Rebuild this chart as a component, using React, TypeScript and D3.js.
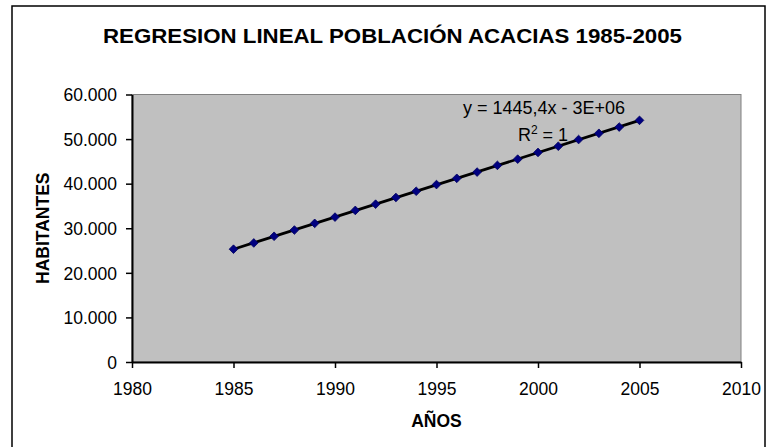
import React from "react";
import * as d3 from "d3";

const years = [
  1985, 1986, 1987, 1988, 1989, 1990, 1991, 1992, 1993, 1994, 1995, 1996,
  1997, 1998, 1999, 2000, 2001, 2002, 2003, 2004, 2005,
];
const habitantes = [
  25300, 26700, 28200, 29600, 31100, 32500, 34000, 35400, 36900, 38300,
  39800, 41200, 42600, 44100, 45500, 47000, 48400, 49900, 51300, 52700,
  54200,
];
const xTicks = [1980, 1985, 1990, 1995, 2000, 2005, 2010];
const yTicks = [0, 10000, 20000, 30000, 40000, 50000, 60000];
const title = "REGRESION LINEAL POBLACIÓN ACACIAS 1985-2005";
const equation = "y = 1445,4x - 3E+06";

const W = 766;
const H = 447;
const plot = { left: 132, right: 741, top: 94.5, bottom: 362 };
const font = "'Liberation Sans', Arial, sans-serif";

const App = () => {
  const svgRef = React.useRef<SVGSVGElement>(null);

  React.useEffect(() => {
    const svgEl = d3.select(svgRef.current);
    svgEl.selectAll("*").remove();

    const x = d3.scaleLinear().domain([1980, 2010]).range([plot.left, plot.right]);
    const y = d3.scaleLinear().domain([0, 60000]).range([plot.bottom, plot.top]);

    // outer chart frame
    svgEl
      .append("rect")
      .attr("x", 12)
      .attr("y", 6)
      .attr("width", 753)
      .attr("height", 460)
      .attr("fill", "white")
      .attr("stroke", "black")
      .attr("stroke-width", 1.5);

    // plot area
    svgEl
      .append("rect")
      .attr("x", plot.left)
      .attr("y", plot.top)
      .attr("width", plot.right - plot.left)
      .attr("height", plot.bottom - plot.top)
      .attr("fill", "#c0c0c0")
      .attr("stroke", "#808080")
      .attr("stroke-width", 1);

    // title
    svgEl
      .append("text")
      .attr("x", 392.5)
      .attr("y", 43)
      .attr("text-anchor", "middle")
      .attr("font-family", font)
      .attr("font-weight", "bold")
      .attr("font-size", 21)
      .attr("textLength", 579)
      .attr("lengthAdjust", "spacingAndGlyphs")
      .text(title);

    // x axis
    const fmtY = (d: number) => (d === 0 ? "0" : d3.format(",")(d).replace(/,/g, "."));
    const xAxisG = svgEl
      .append("g")
      .attr("transform", `translate(0,${plot.bottom})`)
      .call(d3.axisBottom(x).tickValues(xTicks).tickFormat(d3.format("d")).tickSize(6).tickSizeOuter(0));
    xAxisG.select(".domain").attr("stroke", "black").attr("stroke-width", 2);
    xAxisG.selectAll("line").attr("stroke", "black").attr("stroke-width", 1.5);
    xAxisG
      .selectAll("text")
      .attr("font-family", font)
      .attr("font-size", 17.5)
      .attr("fill", "black")
      .attr("dy", null)
      .attr("y", 33);

    // y axis
    const yAxisG = svgEl
      .append("g")
      .attr("transform", `translate(${plot.left},0)`)
      .call(d3.axisLeft(y).tickValues(yTicks).tickFormat((d) => fmtY(+d)).tickSize(6).tickSizeOuter(0));
    yAxisG.select(".domain").attr("stroke", "black").attr("stroke-width", 2);
    yAxisG.selectAll("line").attr("stroke", "black").attr("stroke-width", 1.5);
    yAxisG
      .selectAll("text")
      .attr("font-family", font)
      .attr("font-size", 17.5)
      .attr("fill", "black")
      .attr("x", -15)
      .attr("dy", "0.36em");

    // axis titles
    svgEl
      .append("text")
      .attr("x", (plot.left + plot.right) / 2)
      .attr("y", 427)
      .attr("text-anchor", "middle")
      .attr("font-family", font)
      .attr("font-weight", "bold")
      .attr("font-size", 17.5)
      .text("AÑOS");
    svgEl
      .append("text")
      .attr("transform", `translate(49,${(plot.top + plot.bottom) / 2}) rotate(-90)`)
      .attr("text-anchor", "middle")
      .attr("font-family", font)
      .attr("font-weight", "bold")
      .attr("font-size", 17.5)
      .text("HABITANTES");

    // linear regression trendline from the data
    const n = years.length;
    const mx = d3.mean(years) as number;
    const my = d3.mean(habitantes) as number;
    let sxy = 0;
    let sxx = 0;
    years.forEach((yr, i) => {
      sxy += (yr - mx) * (habitantes[i] - my);
      sxx += (yr - mx) * (yr - mx);
    });
    const slope = sxy / sxx;
    const icpt = my - slope * mx;
    const x0 = years[0];
    const x1 = years[n - 1];
    svgEl
      .append("line")
      .attr("x1", x(x0))
      .attr("y1", y(slope * x0 + icpt))
      .attr("x2", x(x1))
      .attr("y2", y(slope * x1 + icpt))
      .attr("stroke", "black")
      .attr("stroke-width", 2.8);

    // markers
    const diamond = d3.symbol().type(d3.symbolDiamond2).size(48);
    svgEl
      .append("g")
      .selectAll("path")
      .data(years)
      .enter()
      .append("path")
      .attr("d", diamond)
      .attr("transform", (d, i) => `translate(${x(d)},${y(habitantes[i])})`)
      .attr("fill", "#000080")
      .attr("stroke", "#000060")
      .attr("stroke-width", 0.8);

    // equation label
    svgEl
      .append("text")
      .attr("x", 544)
      .attr("y", 114)
      .attr("text-anchor", "middle")
      .attr("font-family", font)
      .attr("font-size", 18)
      .text(equation);
    const r2 = svgEl
      .append("text")
      .attr("x", 543)
      .attr("y", 141)
      .attr("text-anchor", "middle")
      .attr("font-family", font)
      .attr("font-size", 18);
    r2.append("tspan").text("R");
    r2.append("tspan").attr("font-size", 12).attr("dy", -7).text("2");
    r2.append("tspan").attr("dy", 7).text(" = 1");
  }, []);

  return (
    <svg
      ref={svgRef}
      width={W}
      height={H}
      style={{ position: "absolute", left: 0, top: 0, background: "white" }}
    />
  );
};

export default App;
